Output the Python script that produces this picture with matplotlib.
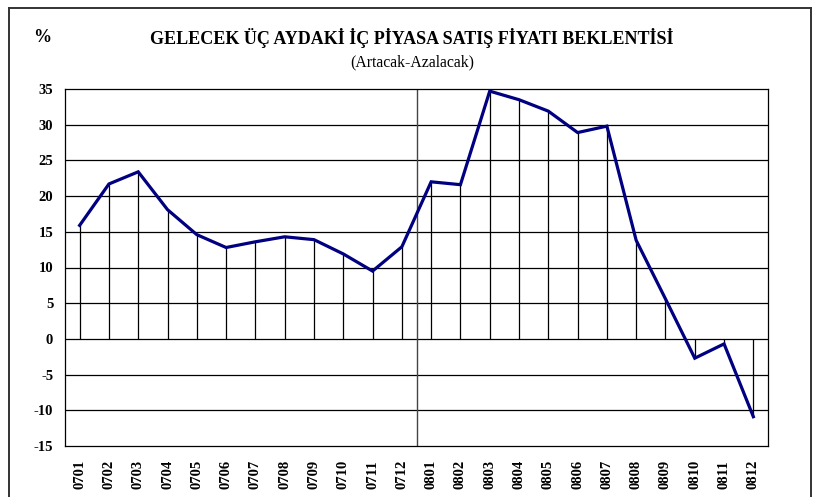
import numpy as np
import matplotlib
matplotlib.use('Agg')
import matplotlib.pyplot as plt
from matplotlib.lines import Line2D

# Data (percent, rising minus falling)
months = ['0701', '0702', '0703', '0704', '0705', '0706', '0707', '0708',
          '0709', '0710', '0711', '0712', '0801', '0802', '0803', '0804',
          '0805', '0806', '0807', '0808', '0809', '0810', '0811', '0812']
values = [15.9, 21.7, 23.4, 18.1, 14.6, 12.8, 13.6, 14.3,
          13.9, 11.9, 9.5, 12.9, 22.0, 21.6, 34.7, 33.5,
          31.9, 28.9, 29.8, 13.8, 5.6, -2.7, -0.7, -10.9]
yticks = [-15, -10, -5, 0, 5, 10, 15, 20, 25, 30, 35]

title = 'GELECEK ÜÇ AYDAKİ İÇ PİYASA SATIŞ FİYATI BEKLENTİSİ'
subtitle = '(Artacak-Azalacak)'

plt.rcParams['font.family'] = ['Liberation Serif', 'DejaVu Serif']

W, H = 830, 497
fig = plt.figure(figsize=(W / 100, H / 100), dpi=100)

# axes placed in pixel terms
left, right, top, bottom = 65, 768, 89, 446
ax = fig.add_axes([left / W, 1 - bottom / H, (right - left) / W, (bottom - top) / H])

x = np.arange(len(months))

# horizontal grid lines
for yv in yticks[1:-1]:
    ax.axhline(yv, color='black', lw=0.9, zorder=1)

# divider between years
ax.axvline(11.5, color='#444444', lw=1.0, zorder=1)

# drop lines from each point to zero
ax.vlines(x, 0, values, color='black', lw=0.9, zorder=2)

ax.plot(x, values, color='#000080', lw=2.3, solid_joinstyle='miter', zorder=3)

ax.set_xlim(-0.5, len(months) - 0.5)
ax.set_ylim(-15, 35)
ax.set_yticks(yticks)
ax.set_yticklabels([str(v) for v in yticks], fontsize=10.5, fontweight='bold')
ax.set_xticks(x)
ax.set_xticklabels(months, rotation=90, fontsize=10.5, fontweight='bold')
ax.tick_params(axis='both', length=0)
ax.tick_params(axis='y', pad=8.5)
ax.tick_params(axis='x', pad=10)
for sp in ax.spines.values():
    sp.set_color('black')
    sp.set_linewidth(0.9)

fig.text(412 / W, 1 - 38 / H, title, ha='center', va='center',
         fontsize=13, fontweight='bold')
fig.text(412 / W, 1 - 62 / H, subtitle, ha='center', va='center', fontsize=11.3)
fig.text(42 / W, 1 - 37 / H, '%', ha='center', va='center',
         fontsize=13, fontweight='bold')

# outer frame (bottom edge is outside the image)
bx0, bx1, by0 = 9 / W, 811 / W, 1 - 8 / H
for xs, ys in [([bx0, bx0], [-0.01, by0]), ([bx0, bx1], [by0, by0]),
               ([bx1, bx1], [by0, -0.01])]:
    fig.add_artist(Line2D(xs, ys, color='#333333', lw=1.4, transform=fig.transFigure))

fig.savefig('out.png', dpi=100)
